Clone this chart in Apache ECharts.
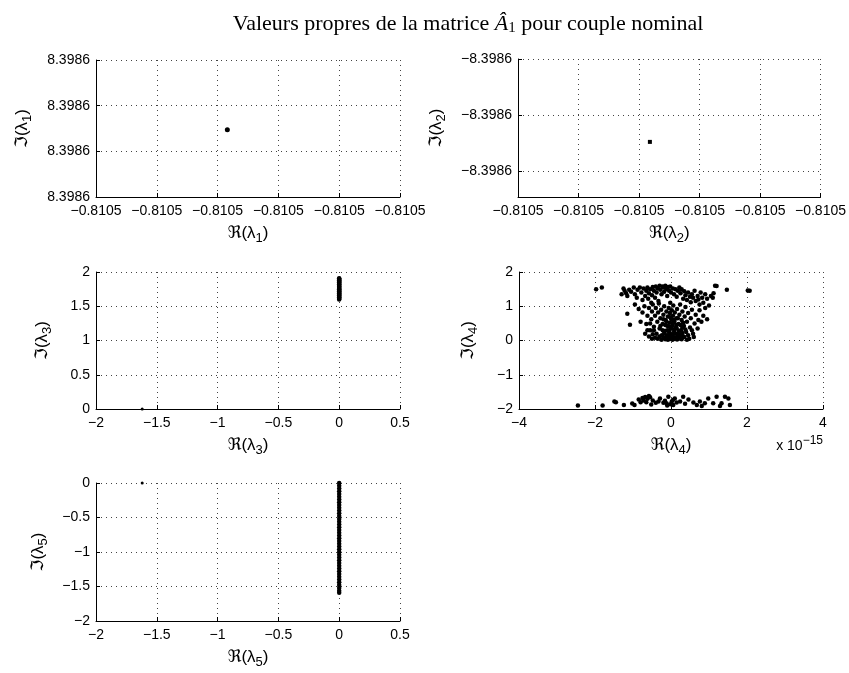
<!DOCTYPE html>
<html>
<head>
<meta charset="utf-8">
<script src="https://cdn.jsdelivr.net/npm/echarts@6/dist/echarts.min.js"></script>
<style>html,body{margin:0;padding:0;background:#fff}#c{width:849px;height:673px}</style>
</head>
<body>
<div id="c"></div>
<script>
// ---------- data ----------
// panels 1 & 2: single eigenvalue; positions in tick units (all ticks read -0.8105 / ±8.3986)
const xTickLabel12 = '\u22120.8105';
const yTickLabel1 = '8.3986';
const yTickLabel2 = '\u22128.3986';
const lambda1 = [[2.16, 1.47]];
const lambda2 = [[2.18, 1.48]]; // y counted downward from the top tick

// panel 3: lambda3 (Re, Im)
const lambda3Re = [0, 0, 0, 0, 0, 0, 0, 0, 0, 0, 0, 0, 0, 0, 0, 0, 0, 0, 0, 0, 0, 0, 0, 0, 0, 0, 0, 0, 0, 0, 0, 0, -1.62];
const lambda3Im = [1.60, 1.61, 1.62, 1.63, 1.64, 1.65, 1.66, 1.67, 1.68, 1.69, 1.70, 1.71, 1.72, 1.73, 1.74, 1.75, 1.76, 1.77, 1.78, 1.79, 1.80, 1.81, 1.82, 1.83, 1.84, 1.85, 1.86, 1.87, 1.88, 1.89, 1.90, 1.91, 0];

// panel 4: lambda4 (Re in units of 1e-15, Im)
const lambda4Upper = [
[-1.25,1.52],[-1.22,1.45],[-1.18,1.38],[-1.15,1.30],[-1.10,1.48],[-1.05,1.42],[-0.98,1.55],[-0.95,1.35],[-0.90,1.25],[-0.88,1.48],
[-0.82,1.55],[-0.78,1.40],[-0.75,1.18],[-0.72,1.52],[-0.68,1.30],[-0.65,1.45],[-0.62,1.55],[-0.60,1.22],[-0.58,1.38],[-0.55,1.50],
[-0.52,1.10],[-0.50,1.32],[-0.48,1.56],[-0.45,1.45],[-0.42,1.25],[-0.40,1.58],[-0.38,1.40],[-0.35,1.52],[-0.33,1.15],[-0.30,1.60],
[-0.28,1.48],[-0.25,1.35],[-0.22,1.58],[-0.20,1.55],[-0.18,1.42],[-0.15,1.60],[-0.12,1.50],[-0.10,1.30],[-0.08,1.56],[-0.05,1.45],
[-0.02,1.58],[0.00,1.40],[0.05,1.52],[0.08,1.35],[0.12,1.50],[0.15,1.28],[0.18,1.45],[0.22,1.55],[0.25,1.38],[0.28,1.50],
[0.32,1.22],[0.35,1.44],[0.38,1.32],[0.42,1.18],[0.45,1.40],[0.50,1.28],[0.52,1.12],[0.55,1.35],[0.58,1.25],[0.62,1.45],
[0.65,1.15],[0.70,1.30],[0.72,1.20],[0.75,1.05],[0.78,1.40],[0.82,1.25],[0.85,1.10],[0.90,1.35],[0.95,1.22],[1.00,1.02],
[1.05,1.30],[1.10,1.25],[1.12,1.38],[1.16,1.60],[1.20,1.59],
[-1.15,0.78],[-1.08,0.46],[-0.95,1.05],[-0.85,0.92],[-0.80,0.55],[-0.75,0.82],[-0.70,1.00],[-0.65,0.48],[-0.62,0.72],[-0.58,0.95],
[-0.55,0.30],[-0.52,0.62],[-0.50,0.85],[-0.48,1.05],[-0.45,0.40],[-0.42,0.72],[-0.40,0.95],[-0.38,0.20],[-0.36,0.55],[-0.34,0.82],
[-0.32,1.08],[-0.30,0.35],[-0.28,0.65],[-0.26,0.90],[-0.24,0.15],[-0.22,0.48],[-0.20,0.75],[-0.18,1.00],[-0.16,0.28],[-0.14,0.60],
[-0.12,0.85],[-0.10,0.10],[-0.09,0.42],[-0.08,0.70],[-0.06,0.95],[-0.05,0.22],[-0.04,0.52],[-0.03,0.80],[-0.02,1.10],[0.00,0.05],
[0.00,0.35],[0.01,0.62],[0.02,0.88],[0.03,0.15],[0.04,0.45],[0.05,0.72],[0.06,1.02],[0.08,0.25],[0.09,0.55],[0.10,0.82],
[0.12,0.08],[0.13,0.38],[0.14,0.65],[0.16,0.92],[0.18,0.18],[0.20,0.48],[0.22,0.75],[0.24,1.05],[0.26,0.30],[0.28,0.60],
[0.30,0.85],[0.32,0.12],[0.34,0.42],[0.36,0.70],[0.38,0.98],[0.40,0.25],[0.42,0.55],[0.45,0.80],[0.48,0.05],[0.50,0.38],
[0.52,0.65],[0.55,0.90],[0.58,0.20],[0.62,0.50],[0.65,0.75],[0.70,0.35],[0.72,0.60],[0.75,0.88],[0.80,0.55],[0.85,0.72],
[0.90,0.95],[0.95,0.62],
[-0.35,0.05],[-0.30,0.12],[-0.25,0.02],[-0.20,0.08],[-0.18,0.22],[-0.15,0.04],[-0.12,0.15],[-0.10,0.30],[-0.08,0.02],[-0.06,0.12],
[-0.04,0.28],[-0.02,0.06],[0.00,0.18],[0.02,0.40],[0.04,0.02],[0.06,0.10],[0.08,0.32],[0.10,0.05],[0.12,0.20],[0.14,0.45],
[0.16,0.03],[0.18,0.12],[0.20,0.28],[0.22,0.08],[0.25,0.18],[0.28,0.04],[0.30,0.22],[0.35,0.10],[0.38,0.32],[0.42,0.02],
[0.45,0.15],[-0.42,0.08],[-0.48,0.18],[-0.50,0.05],[-0.58,0.12],[-0.62,0.30],[-0.45,0.30],[-0.28,0.42],[-0.22,0.30],[-0.15,0.45],
[-0.05,0.40],[0.05,0.52],[0.15,0.35],[0.25,0.45],[0.32,0.52],[-0.12,0.55],[0.08,0.60],[-0.02,0.68],[0.18,0.65],[-0.20,0.62],
[0.30,0.38],[0.55,0.30],[0.60,0.10],[-0.68,0.20],[-0.55,0.50],
[-1.97,1.50],[-1.82,1.55],[2.02,1.46],[2.07,1.45],[1.47,1.48],[-1.30,1.35]
];
const lambda4Lower = [
[-2.45,-1.90],[-1.80,-1.90],[-1.49,-1.78],[-1.45,-1.80],[-1.24,-1.88],[-1.02,-1.84],[-0.96,-1.88],[-0.85,-1.72],[-0.80,-1.80],[-0.75,-1.68],
[-0.72,-1.75],[-0.68,-1.65],[-0.65,-1.80],[-0.62,-1.70],[-0.58,-1.62],[-0.55,-1.66],[-0.52,-1.87],[-0.48,-1.75],[-0.33,-1.78],[-0.29,-1.69],
[-0.20,-1.82],[-0.16,-1.76],[-0.12,-1.83],[-0.07,-1.64],[-0.02,-1.86],[0.02,-1.78],[0.06,-1.88],[0.10,-1.69],[0.15,-1.81],[0.24,-1.78],
[0.32,-1.64],[0.37,-1.85],[0.46,-1.72],[0.59,-1.81],[0.68,-1.88],[0.76,-1.78],[0.81,-1.91],[0.89,-1.83],[0.98,-1.69],[1.11,-1.83],
[1.20,-1.64],[1.29,-1.91],[1.33,-1.83],[1.42,-1.64],[1.51,-1.69],[1.55,-1.88],[-0.40,-1.82],[0.05,-1.74],[-0.10,-1.90]
];

// panel 5: lambda5 (Re, Im)
const lambda5Re = [0,0,0,0,0,0,0,0,0,0,0,0,0,0,0,0,0,0,0,0,0,0,0,0,0,0,0,0,0,0,0,0,0,0,0,0,0,0,0,0,0, -1.62];
const lambda5Im = [0,-0.04,-0.08,-0.12,-0.16,-0.20,-0.24,-0.28,-0.32,-0.36,-0.40,-0.44,-0.48,-0.52,-0.56,-0.60,-0.64,-0.68,-0.72,-0.76,-0.80,
  -0.84,-0.88,-0.92,-0.96,-1.00,-1.04,-1.08,-1.12,-1.16,-1.20,-1.24,-1.28,-1.32,-1.36,-1.40,-1.44,-1.48,-1.52,-1.56,-1.59, 0];

// ---------- chart ----------
const FONT = 'Liberation Sans, Arial, sans-serif';
const minus = v => (v < 0 ? '\u2212' : '') + String(Math.abs(v));
const zip = (a, b) => a.map((v, i) => [v, b[i]]);

const grids = [
  {left: 96, top: 60, width: 304, height: 137},
  {left: 518, top: 59, width: 305, height: 138},
  {left: 96, top: 272, width: 304, height: 137},
  {left: 519, top: 272, width: 304, height: 137},
  {left: 96, top: 483, width: 304, height: 138}
];

const nameRich = {
  s: {fontSize: 13, fontFamily: FONT, color: '#000', padding: [10, 0, 0, 0]},
  f: {fontSize: 17, fontFamily: 'DejaVu Sans', color: '#000'}
};
const axName = (sym, k) => '{f|' + sym + '}(λ{s|' + k + '})';

function lbl(margin, formatter, extra) {
  return Object.assign({color: '#000', fontSize: 14, fontFamily: FONT, margin: margin, formatter: formatter}, extra || {});
}

function baseAxis(extra) {
  return Object.assign({
    axisLine: {show: true, onZero: false, lineStyle: {color: '#000', width: 1}},
    axisTick: {show: true, inside: true, length: 4, lineStyle: {color: '#000'}},
    splitLine: {show: true, lineStyle: {color: '#444', type: [1, 4], width: 1}},
    nameLocation: 'middle',
    nameTextStyle: {color: '#000', fontSize: 17, fontFamily: FONT, rich: nameRich}
  }, extra);
}

const xAxes = [
  baseAxis({gridIndex: 0, type: 'value', min: 0, max: 5, interval: 1, name: axName('ℜ', 1), nameGap: 25,
    axisLabel: lbl(7, () => xTickLabel12)}),
  baseAxis({gridIndex: 1, type: 'value', min: 0, max: 5, interval: 1, name: axName('ℜ', 2), nameGap: 25,
    axisLabel: lbl(7, () => xTickLabel12)}),
  baseAxis({gridIndex: 2, type: 'value', min: -2, max: 0.5, interval: 0.5, name: axName('ℜ', 3), nameGap: 25,
    axisLabel: lbl(7, minus)}),
  baseAxis({gridIndex: 3, type: 'value', min: -4, max: 4, interval: 2, name: axName('ℜ', 4), nameGap: 25,
    axisLabel: lbl(7, minus)}),
  baseAxis({gridIndex: 4, type: 'value', min: -2, max: 0.5, interval: 0.5, name: axName('ℜ', 5), nameGap: 25,
    axisLabel: lbl(7, minus)})
];
const yAxes = [
  baseAxis({gridIndex: 0, type: 'value', min: 0, max: 3, interval: 1, name: axName('ℑ', 1), nameGap: 62,
    axisLabel: lbl(6, () => yTickLabel1)}),
  baseAxis({gridIndex: 1, type: 'value', inverse: true, min: 0, max: 2.464, interval: 1, name: axName('ℑ', 2), nameGap: 70,
    axisLabel: lbl(6, () => yTickLabel2, {showMaxLabel: false})}),
  baseAxis({gridIndex: 2, type: 'value', min: 0, max: 2, interval: 0.5, name: axName('ℑ', 3), nameGap: 42,
    axisLabel: lbl(6, minus)}),
  baseAxis({gridIndex: 3, type: 'value', min: -2, max: 2, interval: 1, name: axName('ℑ', 4), nameGap: 39,
    axisLabel: lbl(6, minus)}),
  baseAxis({gridIndex: 4, type: 'value', min: -2, max: 0, interval: 0.5, name: axName('ℑ', 5), nameGap: 46,
    axisLabel: lbl(6, minus)})
];
yAxes.forEach(a => { a.nameRotate = 90; });

const dot = (xi, data, size, symbol) => ({
  type: 'scatter', xAxisIndex: xi, yAxisIndex: xi, data: data,
  symbol: symbol || 'circle', symbolSize: size, silent: true, animation: false,
  itemStyle: {color: '#000', opacity: 1}
});

const chart = echarts.init(document.getElementById('c'), null, {renderer: 'canvas'});
chart.setOption({
  backgroundColor: '#fff',
  animation: false,
  grid: grids,
  xAxis: xAxes,
  yAxis: yAxes,
  series: [
    dot(0, lambda1, 5),
    dot(1, lambda2, 4, 'rect'),
    dot(2, zip(lambda3Re, lambda3Im).slice(0, -1), 4.5),
    dot(2, zip(lambda3Re, lambda3Im).slice(-1), 3),
    dot(3, lambda4Upper, 4.5),
    dot(3, lambda4Lower, 4.5),
    dot(4, zip(lambda5Re, lambda5Im).slice(0, -1), 4.5),
    dot(4, zip(lambda5Re, lambda5Im).slice(-1), 3)
  ],
  graphic: [
    {type: 'text', x: 468, y: 24, silent: true, style: {
      text: 'Valeurs propres de la matrice {a|Â}{s|1} pour couple nominal',
      fill: '#000', font: '22px "Liberation Serif", serif', align: 'center', verticalAlign: 'middle',
      rich: {a: {fontStyle: 'italic', fontSize: 22, fontFamily: 'Liberation Serif'},
             s: {fontSize: 15, fontFamily: 'Liberation Serif', padding: [9, 0, 0, 0]}}
    }},
    {type: 'text', x: 823, y: 446, silent: true, style: {
      text: 'x 10{e|\u221215}', fill: '#000', font: '14px "Liberation Sans", Arial, sans-serif',
      align: 'right', verticalAlign: 'middle',
      rich: {e: {fontSize: 12, fontFamily: 'Liberation Sans', padding: [0, 0, 11, 0]}}
    }}
  ]
});
</script>
</body>
</html>
